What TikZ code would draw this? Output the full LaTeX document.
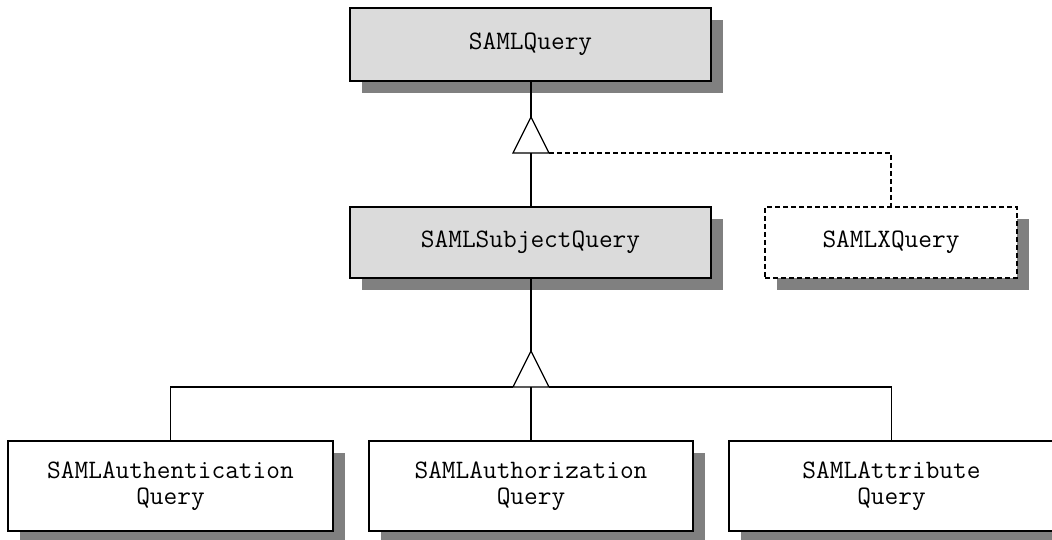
\documentclass[tikz,border=0pt]{standalone}
\usepackage{fontspec}
\usetikzlibrary{shadows}
\tikzset{
  classbox/.style={draw, line width=1.3pt, fill=#1, align=center, inner sep=0pt,
    font=\ttfamily\fontsize{26.6}{25.5}\selectfont,
    drop shadow={shadow xshift=12pt, shadow yshift=-12pt, fill=black!50, opacity=1}},
  classbox/.default=white,
  link/.style={line width=1.3pt},
  dashlink/.style={line width=1.3pt, dash pattern=on 5pt off 3pt}
}
\begin{document}
\begin{tikzpicture}[x=1pt,y=-1pt]
    \useasboundingbox (0,0) rectangle (1052,540);
    
    \node[classbox=black!14, minimum width=361pt, minimum height=73pt] (query) at (530.5,44.5) {SAMLQuery};
    \node[classbox=black!14, minimum width=361pt, minimum height=71pt] (subject) at (530.5,242.5) {SAMLSubjectQuery};
    \node[classbox, minimum width=252pt, minimum height=71pt, line width=1.8pt, dash pattern=on 5pt off 3pt] (xquery) at (891,242.5) {SAMLXQuery};
    
    \node[classbox, minimum width=325pt, minimum height=90pt] (authn) at (170.5,486) {SAMLAuthentication\\Query};
    \node[classbox, minimum width=324pt, minimum height=90pt] (authz) at (531,486) {SAMLAuthorization\\Query};
    \node[classbox, minimum width=325pt, minimum height=90pt] (attr) at (891.5,486) {SAMLAttribute\\Query};
    
    % upper triangle
    \coordinate (up) at (531,117);
    \coordinate (upL) at (513,153);
    \coordinate (upR) at (549,153);
    \coordinate (upB) at (531,153);
    \draw[link] (upL) -- (up) -- (upR) -- cycle;
    \draw[link] (query.south -| up) -- (up);
    \draw[link] (upB) -- (subject.north -| upB);
    \draw[dashlink] (upR) -| (xquery.north);
    
    % lower triangle
    \coordinate (lo) at (531,351);
    \coordinate (loL) at (513,387);
    \coordinate (loR) at (549,387);
    \coordinate (loB) at (531,387);
    \draw[link] (loL) -- (lo) -- (loR) -- cycle;
    \draw[link] (subject.south -| lo) -- (lo);
    \draw[link] (loB) -- (authz.north -| loB);
    \draw[link] (loL) -| (authn.north);
    \draw[link] (loR) -| (attr.north);
    \end{tikzpicture}
\end{document}
